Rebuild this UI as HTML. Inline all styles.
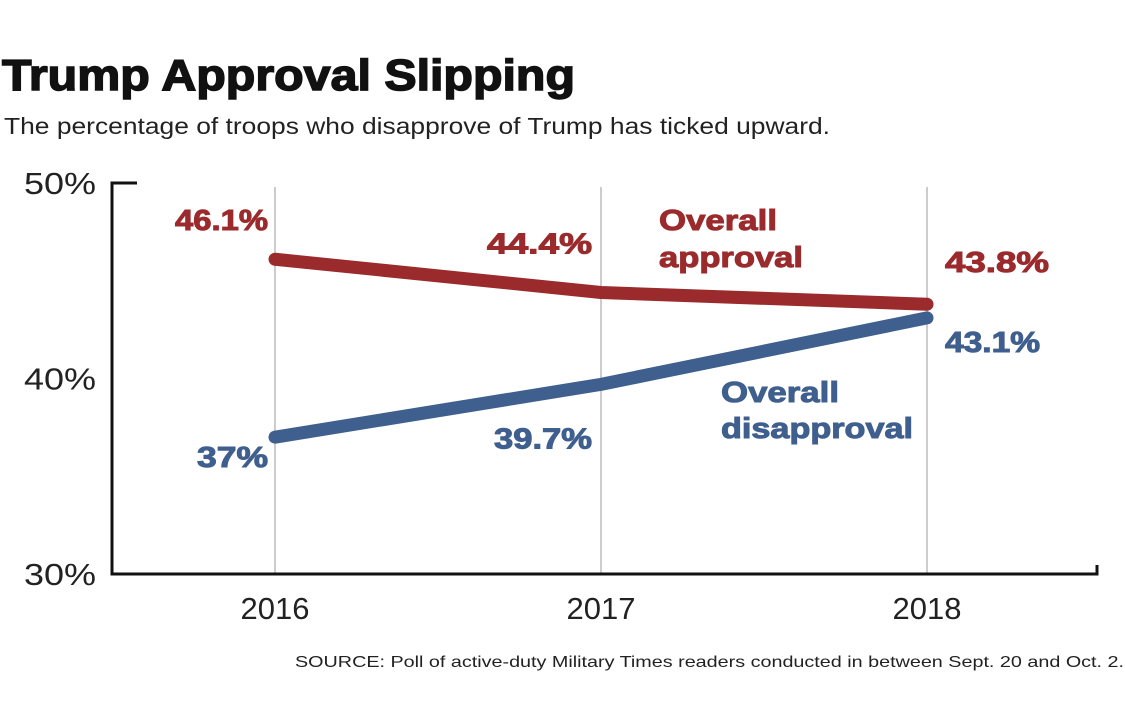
<!DOCTYPE html>
<html><head><meta charset="utf-8"><style>
body{margin:0;background:#fff;width:1125px;height:712px;overflow:hidden;font-family:"Liberation Sans",sans-serif}
</style></head><body>
<svg width="1125" height="712">
<text x="2" y="90" font-size="44" font-weight="bold" fill="#111" stroke="#111" stroke-width="1.5" textLength="573" lengthAdjust="spacingAndGlyphs">Trump Approval Slipping</text>
<text x="4" y="134" font-size="23" fill="#222" textLength="826" lengthAdjust="spacingAndGlyphs">The percentage of troops who disapprove of Trump has ticked upward.</text>
<g id="plot"></g>
<text x="1124" y="667" font-size="16" fill="#222" text-anchor="end" textLength="829" lengthAdjust="spacingAndGlyphs">SOURCE: Poll of active-duty Military Times readers conducted in between Sept. 20 and Oct. 2.</text>
</svg>
<script>
const years=["2016","2017","2018"];
const approval=[46.1,44.4,43.8];
const disapproval=[37,39.7,43.1];
const approvalLabels=["46.1%","44.4%","43.8%"];
const disapprovalLabels=["37%","39.7%","43.1%"];
const yTicks=[30,40,50];
const yTickLabels=["30%","40%","50%"];
const NS="http://www.w3.org/2000/svg";
const g=document.getElementById('plot');
const xPos=[275,604,927];
function x(i){return xPos[0]+(xPos[2]-xPos[0])*i/(years.length-1);}
function y(v){return 574-(v-30)*(574-183)/20;}
function mk(tag,attrs,txt){const e=document.createElementNS(NS,tag);for(const k in attrs)e.setAttribute(k,attrs[k]);if(txt!==undefined)e.textContent=txt;g.appendChild(e);return e;}
years.forEach((yr,i)=>{
 const l=mk('line',{x1:x(i),x2:x(i),y1:187,y2:574,stroke:'#bbb','stroke-width':1.5});
 
 
 const t=mk('text',{x:x(i),y:619,'font-size':31,'text-anchor':'middle',fill:'#222'},yr);
 
 
});
yTicks.forEach((v,i)=>{
 const t=mk('text',{x:96,y:y(v)+11,'font-size':31,'text-anchor':'end',fill:'#222',textLength:72,lengthAdjust:'spacingAndGlyphs'},yTickLabels[i]);
 
 
});
const ax=mk('path',{d:`M137 ${y(50)} H112 V${y(30)} H1097 V565`,fill:'none',stroke:'#111','stroke-width':3});


function series(vals,color,name){
 const p=mk('polyline',{points:vals.map((v,i)=>x(i)+','+y(v)).join(' '),fill:'none',stroke:color,'stroke-width':13,'stroke-linecap':'round','stroke-linejoin':'round'});
 
 
}
const red='#9a2a2c',blue='#3f5f8e';
series(approval,red,'approval');
series(disapproval,blue,'disapproval');
const lab={'font-size':29,'font-weight':'bold','stroke-width':1,lengthAdjust:'spacingAndGlyphs'};
function label(txt,xx,yy,anchor,color,len,name){
 const t=mk('text',Object.assign({x:xx,y:yy,fill:color,stroke:color,'text-anchor':anchor,textLength:len},lab),txt);
 
 
}
const aOff=[[-7,-29,'end',93],[-9,-39,'end',105],[18,-32,'start',104]];
approval.forEach((v,i)=>label(approvalLabels[i],x(i)+aOff[i][0],y(v)+aOff[i][1],aOff[i][2],red,aOff[i][3],'approval-label-'+years[i]));
const dOff=[[-7,30,'end',71],[-9,64,'end',98],[18,34,'start',95]];
disapproval.forEach((v,i)=>label(disapprovalLabels[i],x(i)+dOff[i][0],y(v)+dOff[i][1],dOff[i][2],blue,dOff[i][3],'disapproval-label-'+years[i]));
label('Overall',659,230,'start',red,118,'approval-series-label');
label('approval',659,267,'start',red,144,'approval-series-label');
label('Overall',721,402,'start',blue,118,'disapproval-series-label');
label('disapproval',721,438,'start',blue,192,'disapproval-series-label');
</script>
</body></html>
